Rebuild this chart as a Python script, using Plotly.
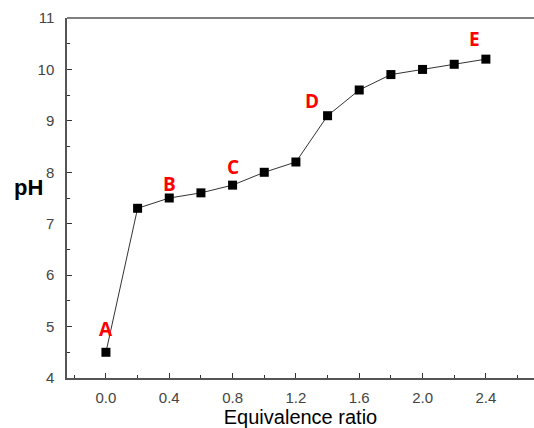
import plotly.graph_objects as go

ratio = [0.0, 0.2, 0.4, 0.6, 0.8, 1.0, 1.2, 1.4, 1.6, 1.8, 2.0, 2.2, 2.4]
ph = [4.5, 7.3, 7.5, 7.6, 7.75, 8.0, 8.2, 9.1, 9.6, 9.9, 10.0, 10.1, 10.2]

point_labels = ["A", "B", "C", "D", "E"]
label_x = [0.0, 0.4, 0.8, 1.3, 2.33]
label_y = [4.96, 7.77, 8.1, 9.38, 10.59]

x_ticks = [0.0, 0.4, 0.8, 1.2, 1.6, 2.0, 2.4]
x_tick_text = ["0.0", "0.4", "0.8", "1.2", "1.6", "2.0", "2.4"]
y_ticks = [4, 5, 6, 7, 8, 9, 10, 11]

fig = go.Figure()
fig.add_trace(go.Scatter(
    x=ratio, y=ph, mode="lines+markers",
    line=dict(color="#333333", width=1),
    marker=dict(symbol="square", size=9, color="black"),
    showlegend=False,
))

for t, x, y in zip(point_labels, label_x, label_y):
    fig.add_annotation(x=x, y=y, text=f"<b>{t}</b>", showarrow=False,
                       font=dict(family="Open Sans, Arial", size=19, color="#ff0000"))

fig.add_annotation(xref="paper", yref="y", x=-0.083, y=7.7, text="<b>pH</b>",
                   showarrow=False, xanchor="center", yanchor="middle",
                   font=dict(family="Liberation Sans, Arial", size=22, color="black"))

# top border line
fig.add_shape(type="line", xref="paper", yref="paper", x0=0, x1=1, y0=1, y1=1,
              line=dict(color="#555555", width=1.5))

fig.update_layout(
    width=534, height=428,
    margin=dict(l=67, r=0, t=18, b=50),
    plot_bgcolor="white", paper_bgcolor="white",
    font=dict(family="Liberation Sans, Arial", color="#333333"),
    xaxis=dict(
        range=[-0.246, 2.704], showgrid=False, zeroline=False,
        showline=True, linecolor="#555555", linewidth=1.5,
        ticks="inside", ticklen=5, tickcolor="#333333", tickwidth=1,
        tickvals=x_ticks, ticktext=x_tick_text, ticklabelstandoff=5,
        tickfont=dict(size=15, color="#444444"),
        minor=dict(dtick=0.2, tick0=0, ticks="inside", ticklen=3, tickcolor="#333333"),
        title=dict(text="Equivalence ratio", font=dict(size=20, color="black"), standoff=8),
    ),
    yaxis=dict(
        range=[4, 11], showgrid=False, zeroline=False,
        showline=True, linecolor="#555555", linewidth=1.5,
        ticks="inside", ticklen=5, tickcolor="#333333", tickwidth=1,
        tickvals=y_ticks, ticklabelstandoff=8,
        tickfont=dict(size=15, color="#444444"),
        minor=dict(dtick=0.5, tick0=4, ticks="inside", ticklen=3, tickcolor="#333333"),
    ),
)

fig.write_html("out.html")
